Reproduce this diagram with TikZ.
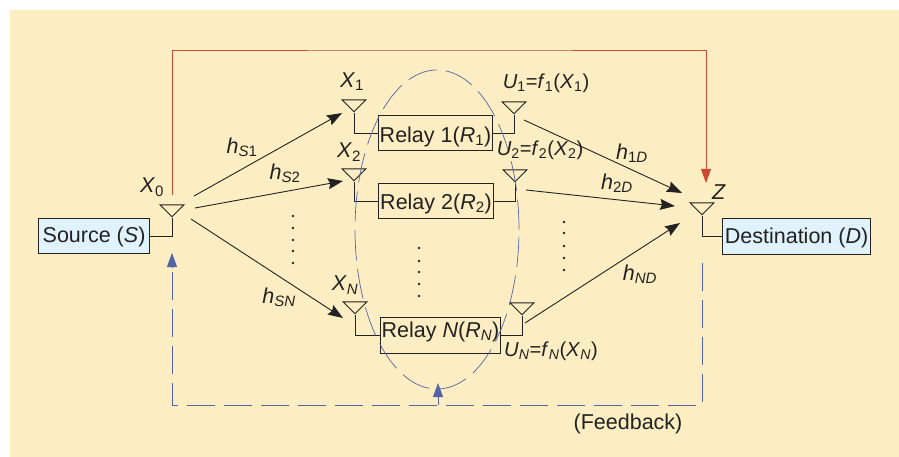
\documentclass[tikz,border=0pt]{standalone}
\usepackage{xcolor}
\usepackage{fontspec}
\setmainfont{Liberation Sans}
\usetikzlibrary{arrows.meta,shapes.geometric}
\definecolor{PanelCream}{HTML}{FDEDC2}
\definecolor{BoxBlue}{HTML}{E0F2FC}
\definecolor{LineDark}{HTML}{222222}
\definecolor{LinkRed}{HTML}{CC4B32}
\definecolor{LinkBlue}{HTML}{5364A4}
\newcommand{\ssub}[1]{\textsubscript{#1}}

\begin{document}
\begin{tikzpicture}[
	x=1pt, y=-1pt,
	every node/.style={font=\fontsize{21.5}{25}\selectfont, text=LineDark},
	box/.style={draw=LineDark, line width=1.1pt, inner sep=0pt, anchor=north west},
	antenna/.style={draw=LineDark, line width=0.9pt, isosceles triangle, isosceles triangle stretches, shape border rotate=-90, inner sep=0pt, minimum width=24pt, minimum height=12pt, anchor=apex},
	wire/.style={LineDark, line width=1pt},
	arrow/.style={-{Stealth[length=15pt,width=11pt,inset=2pt]}, LineDark, line width=0.9pt},
	direct/.style={-{Triangle[length=14pt,width=10pt]}, LinkRed, line width=0.9pt},
	feedback/.style={LinkBlue, line width=0.8pt, dash pattern=on 28pt off 9pt},
	fbarrow/.style={-{Triangle[length=14pt,width=10pt]}, LinkBlue, line width=0.8pt},
	ulabel/.style={font=\fontsize{20.2}{24}\selectfont}
]
\useasboundingbox (0,0) rectangle (899,457);
\fill[PanelCream] (10,10) rectangle (899,457);

% end boxes
\node[box, fill=BoxBlue, minimum width=111pt, minimum height=35pt, text height=15.5pt, text depth=2.5pt] (source) at (38,218) {Source (\textit{S})};
\node[box, fill=BoxBlue, minimum width=148pt, minimum height=36pt, text height=16pt, text depth=2pt] (dest) at (722,218) {Destination (\textit{D})};

% relays
\node[box, minimum width=114pt, minimum height=35pt, text height=19pt, text depth=0pt] (relay1) at (378,115) {Relay 1(\textit{R}\ssub{1})};
\node[box, minimum width=115pt, minimum height=35pt, text height=16pt, text depth=0pt] (relay2) at (378,183) {Relay 2(\textit{R}\ssub{2})};
\node[box, minimum width=120pt, minimum height=36pt, text height=15.5pt, text depth=11.5pt] (relayN) at (380,317) {Relay \textit{N}(\textit{R}\ssub{\textit{N}})};

% antennas
\node[antenna] (antS) at (172,218) {};
\node[antenna] (antZ) at (702,216) {};
\node[antenna] (ant1) at (354,113) {};
\node[antenna] (ant2) at (354,182) {};
\node[antenna] (antN) at (355,315) {};
\node[antenna] (out1) at (514,115) {};
\node[antenna] (out2) at (515,183) {};
\node[antenna] (outN) at (522,316) {};

\draw[wire] (antS.apex) |- (source.east);
\draw[wire] (antZ.apex) |- (dest.west);
\draw[wire] (ant1.apex) |- (relay1.west);
\draw[wire] (ant2.apex) |- (relay2.west);
\draw[wire] (antN.apex) |- (relayN.west);
\draw[wire] (out1.apex) |- (relay1.east);
\draw[wire] (out2.apex) |- (relay2.east);
\draw[wire] (outN.apex) |- (relayN.east);

% free ends of the radio links
\coordinate (txS1) at (194,196);
\coordinate (rxS1) at (342,113);
\coordinate (txS2) at (195,208);
\coordinate (rxS2) at (343,181);
\coordinate (txSN) at (191,219);
\coordinate (rxSN) at (343,318);
\coordinate (tx1D) at (524,120);
\coordinate (rx1D) at (682,193);
\coordinate (tx2D) at (526,190);
\coordinate (rx2D) at (675,206);
\coordinate (txND) at (525,323);
\coordinate (rxND) at (680,223);

\draw[arrow] (txS1) -- (rxS1);
\draw[arrow] (txS2) -- (rxS2);
\draw[arrow] (txSN) -- (rxSN);
\draw[arrow] (tx1D) -- (rx1D);
\draw[arrow] (tx2D) -- (rx2D);
\draw[arrow] (txND) -- (rxND);

% direct link on top
\coordinate (redS) at (172,195);
\coordinate (redTop) at (440,50);
\coordinate (redZ) at (706,183);
\draw[direct] (redS) |- (redTop) -| (redZ);

% feedback
\node[draw=LinkBlue, line width=0.7pt, dash pattern=on 30pt off 9pt, ellipse, inner sep=0pt, minimum width=164pt, minimum height=319pt] (relays) at (437,229.5) {};
\coordinate (fbZ) at (702,263);
\coordinate (fbBot) at (438,405);
\coordinate (fbS) at (172,268);
\coordinate (fbTip) at (172,253);
\coordinate (fbUp) at (438,383);
\draw[feedback] (fbZ) |- (fbBot) -| (fbS);
\draw[fbarrow] (fbS) -- (fbTip);
\draw[fbarrow] (fbBot) -- (fbUp);

% labels
\node (lblX0) at (152,187) {\textit{X}\ssub{0}};
\node (lblX1) at (352,82) {\textit{X}\ssub{1}};
\node (lblX2) at (349,152) {\textit{X}\ssub{2}};
\node (lblXN) at (345,285) {\textit{X}\ssub{\textit{N}}};
\node (lblZ) at (719,192) {\textit{Z}};
\node[ulabel] (lblU1) at (546,83) {\textit{U}\ssub{1}=\textit{f}\ssub{1}(\textit{X}\ssub{1})};
\node[ulabel] (lblU2) at (540,150) {\textit{U}\ssub{2}=\textit{f}\ssub{2}(\textit{X}\ssub{2})};
\node[ulabel] (lblUN) at (551,351) {\textit{U}\ssub{\textit{N}}=\textit{f}\ssub{\textit{N}}(\textit{X}\ssub{\textit{N}})};
\node (lblhS1) at (242,147) {\textit{h}\ssub{\textit{S}1}};
\node (lblhS2) at (285,173) {\textit{h}\ssub{\textit{S}2}};
\node (lblhSN) at (279,297) {\textit{h}\ssub{\textit{SN}}};
\node (lblh1D) at (632,153) {\textit{h}\ssub{1\textit{D}}};
\node (lblh2D) at (617,183) {\textit{h}\ssub{2\textit{D}}};
\node (lblhND) at (640,274) {\textit{h}\ssub{\textit{ND}}};
\node (lblFb) at (628,424) {(Feedback)};

% vertical dots
\foreach \y in {216,228,240,251,263}
	\fill[LineDark] (293,\y) circle (1.4pt);
\foreach \y in {248,261,272,284,296}
	\fill[LineDark] (419,\y) circle (1.4pt);
\foreach \y in {222,233,246,258,270}
	\fill[LineDark] (564,\y) circle (1.4pt);
\end{tikzpicture}
\end{document}
